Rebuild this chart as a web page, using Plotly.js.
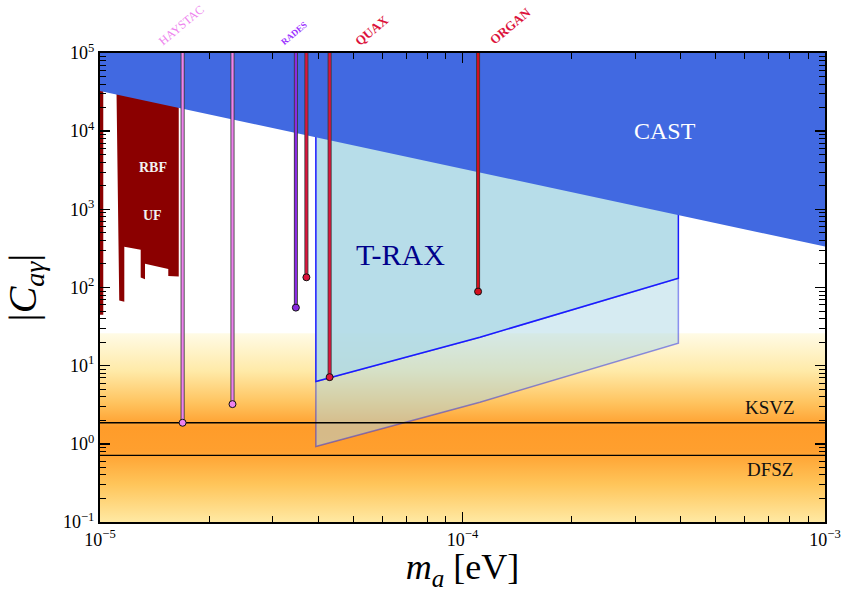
<!DOCTYPE html>
<html>
<head>
<meta charset="utf-8">
<script src="https://cdn.plot.ly/plotly-3.0.1.min.js"></script>
<style>html,body{margin:0;padding:0;background:#fff;}#chart{width:846px;height:592px;}</style>
</head>
<body>
<div id="chart"></div>
<script>
// ---------------- data ----------------
const yTop = 1e5;
const massRange = [1e-5, 1e-3];

// tick labels
const xTickVals = [1e-5, 1e-4, 1e-3];
const xTickText = ['10<sup>−5</sup>', '10<sup>−4</sup>', '10<sup>−3</sup>'];
const yTickVals = [1e-1, 1e0, 1e1, 1e2, 1e3, 1e4, 1e5];
const yTickText = ['10<sup>−1</sup>', '10<sup>0</sup>', '10<sup>1</sup>', '10<sup>2</sup>', '10<sup>3</sup>', '10<sup>4</sup>', '10<sup>5</sup>'];

// CAST bound: |C| at the two ends of the mass range
const castMass = [1e-5, 1e-3];
const castC = [3.27e4, 3.35e2];

// QCD axion band extent and model lines
const bandC = [0.1, 26];
const ksvzC = 1.86;
const dfszC = 0.71;

// T-RAX projected sensitivity
const traxMass = [3.94e-5, 1.117e-4, 3.94e-4];
const traxC = [6.27, 23.1, 131.5];
const traxLightC = [0.925, 3.41, 19.4];

// RBF / UF exclusion outline
const rbfMass = [1.107e-5, 1.130e-5, 1.167e-5, 1.167e-5, 1.295e-5, 1.295e-5, 1.331e-5, 1.331e-5, 1.543e-5, 1.543e-5, 1.649e-5, 1.649e-5];
const rbfC = [1e5, 68.0, 65.5, 333, 303, 134, 127.7, 202, 173, 140.7, 137.8, 1e5];
const rbfStripMass = [1e-5, 1.021e-5];
const rbfStripC = [44.7, 1e5];

// haloscopes: masses and lowest |C| reached
const haystacMass = [1.69e-5, 2.32e-5];
const haystacC = [1.86, 3.22];
const radesMass = [3.47e-5];
const radesC = [55.3];
const quaxMass = [3.71e-5, 4.30e-5];
const quaxC = [135, 7.13];
const organMass = [1.104e-4];
const organC = [88.7];

// ---------------- helpers ----------------
const SERIF = 'Liberation Serif, DejaVu Serif, serif';
function vlines(ms, cs) {
  const x = [], y = [];
  ms.forEach((m, i) => { x.push(m, m, null); y.push(yTop, cs[i], null); });
  return {x, y};
}
function haloTraces(ms, cs, color) {
  const v = vlines(ms, cs);
  return [
    {x: v.x, y: v.y, mode: 'lines', line: {color: '#3a3a3a', width: 4}, hoverinfo: 'skip', showlegend: false},
    {x: v.x, y: v.y, mode: 'lines', line: {color: color, width: 2.3}, hoverinfo: 'skip', showlegend: false},
    {x: ms, y: cs, mode: 'markers', marker: {color: color, size: 7, line: {color: '#111', width: 1}}, hoverinfo: 'skip', showlegend: false}
  ];
}

const traces = [];

// QCD band with vertical gradient
traces.push({
  x: [massRange[0], massRange[1], massRange[1], massRange[0], massRange[0]],
  y: [bandC[0], bandC[0], bandC[1], bandC[1], bandC[0]],
  mode: 'lines', fill: 'toself', line: {width: 0, color: 'rgba(0,0,0,0)'},
  fillgradient: {
    type: 'vertical',
    colorscale: [
      [0.0, '#FFE9A3'], [0.2, '#FFC55A'], [0.38, '#FF9F2E'], [0.5, '#FF9C2A'],
      [0.63, '#FFC35E'], [0.8, '#FFEAA8'], [1.0, '#FFFBE6']
    ]
  },
  hoverinfo: 'skip', showlegend: false
});

// T-RAX light (extended) region
traces.push({
  x: traxMass.concat(traxMass.slice().reverse(), [traxMass[0]]),
  y: traxC.concat(traxLightC.slice().reverse(), [traxC[0]]),
  mode: 'lines', fill: 'toself', fillcolor: 'rgba(173,216,230,0.5)',
  line: {color: 'rgba(40,40,230,0.5)', width: 1.5}, hoverinfo: 'skip', showlegend: false
});
// T-RAX main region
traces.push({
  x: [traxMass[0]].concat(traxMass, [traxMass[2], traxMass[0]]),
  y: [yTop].concat(traxC, [yTop, yTop]),
  mode: 'lines', fill: 'toself', fillcolor: 'rgba(173,216,230,0.88)',
  line: {color: '#1a1aff', width: 1.5}, hoverinfo: 'skip', showlegend: false
});

// KSVZ / DFSZ lines
traces.push({
  x: [massRange[0], massRange[1], null, massRange[0], massRange[1]],
  y: [ksvzC, ksvzC, null, dfszC, dfszC],
  mode: 'lines', line: {color: '#000', width: 1.3}, hoverinfo: 'skip', showlegend: false
});

// RBF / UF
traces.push({
  x: rbfMass, y: rbfC, mode: 'lines', fill: 'toself', fillcolor: '#8B0000',
  line: {width: 0, color: '#8B0000'}, hoverinfo: 'skip', showlegend: false
});
traces.push({
  x: [rbfStripMass[0], rbfStripMass[1], rbfStripMass[1], rbfStripMass[0]],
  y: [rbfStripC[0], rbfStripC[0], rbfStripC[1], rbfStripC[1]],
  mode: 'lines', fill: 'toself', fillcolor: '#8B0000',
  line: {width: 0, color: '#8B0000'}, hoverinfo: 'skip', showlegend: false
});

// CAST
traces.push({
  x: [castMass[0], castMass[1], castMass[1], castMass[0], castMass[0]],
  y: [castC[0], castC[1], yTop, yTop, castC[0]],
  mode: 'lines', fill: 'toself', fillcolor: '#4169E1',
  line: {width: 0, color: '#4169E1'}, hoverinfo: 'skip', showlegend: false
});

// haloscopes
haloTraces(haystacMass, haystacC, '#EE82EE').forEach(t => traces.push(t));
haloTraces(radesMass, radesC, '#8A2BE2').forEach(t => traces.push(t));
haloTraces(quaxMass, quaxC, '#DC143C').forEach(t => traces.push(t));
haloTraces(organMass, organC, '#D4101E').forEach(t => traces.push(t));

// annotations on log axes take log10 positions
const L = Math.log10;
function ann(text, m, c, size, color, extra) {
  return Object.assign({text, x: L(m), y: L(c), xref: 'x', yref: 'y', showarrow: false,
    font: {family: SERIF, size, color}}, extra || {});
}
function topAnn(text, m, yPaper, size, color) {
  return {text, x: L(m), y: yPaper, xref: 'x', yref: 'paper', showarrow: false,
    xanchor: 'center', yanchor: 'middle',
    textangle: -40, font: {family: SERIF, size, color}};
}

const annotations = [
  ann('CAST', 3.62e-4, 1.0e4, 24, '#ffffff'),
  ann('T-RAX', 6.73e-5, 261, 30, '#00008B'),
  ann('<b>RBF</b>', 1.4e-5, 3380, 14, '#f2f2f2'),
  ann('<b>UF</b>', 1.4e-5, 824, 14, '#f2f2f2'),
  ann('KSVZ', 7.05e-4, 2.89, 19, '#111'),
  ann('DFSZ', 7.05e-4, 0.466, 19, '#111'),
  topAnn('HAYSTAC', 1.68e-5, 1.0597, 12, '#EE82EE'),
  topAnn('<b>RADES</b>', 3.44e-5, 1.0416, 9, '#9B30FF'),
  topAnn('<b>QUAX</b>', 5.61e-5, 1.049, 13, '#DC143C'),
  topAnn('<b>ORGAN</b>', 1.36e-4, 1.0576, 13, '#DC143C')
];

const axisCommon = {
  type: 'log', showgrid: false, zeroline: false,
  showline: true, linecolor: '#000', linewidth: 2, mirror: 'ticks',
  ticks: 'inside', ticklen: 10, tickwidth: 1.5, tickcolor: '#000',
  tickmode: 'array',
  minor: {ticks: 'inside', ticklen: 6, tickwidth: 1, tickcolor: '#000', showgrid: false, dtick: 'D1'},
  tickfont: {family: SERIF, size: 18, color: '#000'},
  layer: 'above traces'
};

const layout = {
  width: 846, height: 592,
  margin: {l: 100, r: 21, t: 53, b: 70},
  paper_bgcolor: '#fff', plot_bgcolor: '#fff',
  showlegend: false,
  xaxis: Object.assign({}, axisCommon, {
    range: [-5, -3], tickvals: xTickVals, ticktext: xTickText,
    title: {text: '<i>m</i><sub><i>a</i></sub> [eV]', font: {family: SERIF, size: 36, color: '#000'}, standoff: 15}
  }),
  yaxis: Object.assign({}, axisCommon, {
    range: [-1, 5], tickvals: yTickVals, ticktext: yTickText,
    title: {text: '|<i>C</i><sub><i>aγ</i></sub>|', font: {family: SERIF, size: 40, color: '#000'}, standoff: 14}
  }),
  annotations
};

Plotly.newPlot('chart', traces, layout, {displayModeBar: false, staticPlot: true});
</script>
</body>
</html>
